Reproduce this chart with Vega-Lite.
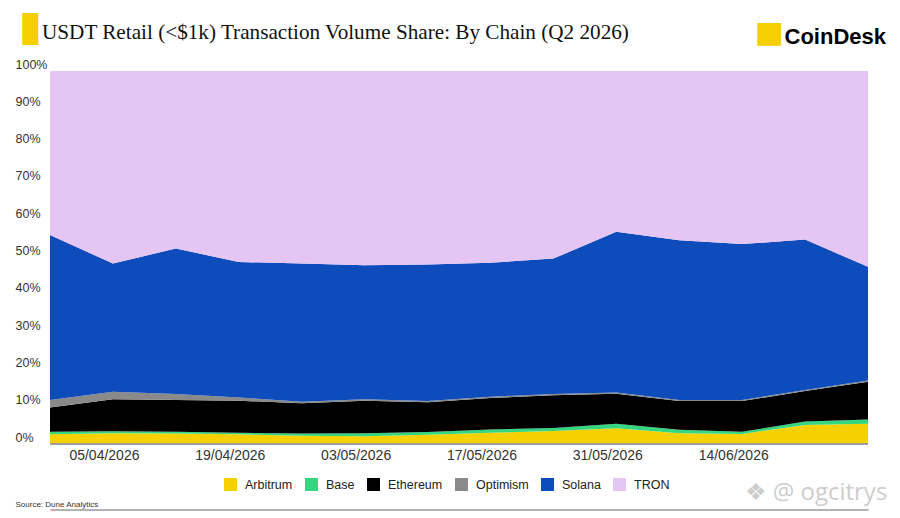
{
  "$schema": "https://vega.github.io/schema/vega-lite/v6.json",
  "width": 818,
  "height": 373,
  "autosize": {"type": "none"},
  "padding": {"left": 50, "top": 71, "right": 32, "bottom": 74},
  "background": "white",
  "title": {
    "text": "USDT Retail (<$1k) Transaction Volume Share: By Chain (Q2 2026)",
    "anchor": "start",
    "frame": "group",
    "font": "Liberation Serif",
    "fontSize": 21.2,
    "fontWeight": "normal",
    "color": "#111111",
    "baseline": "alphabetic",
    "offset": 0,
    "dx": -8,
    "dy": 45
  },
  "datasets": {
    "share": [
      {"week": "2026-03-30", "chain": "Arbitrum", "share": 2.6},
      {"week": "2026-03-30", "chain": "Base", "share": 0.7},
      {"week": "2026-03-30", "chain": "Ethereum", "share": 6.5},
      {"week": "2026-03-30", "chain": "Optimism", "share": 2.0},
      {"week": "2026-03-30", "chain": "Solana", "share": 44.2},
      {"week": "2026-03-30", "chain": "TRON", "share": 44.0},
      {"week": "2026-04-06", "chain": "Arbitrum", "share": 2.9},
      {"week": "2026-04-06", "chain": "Base", "share": 0.5},
      {"week": "2026-04-06", "chain": "Ethereum", "share": 8.6},
      {"week": "2026-04-06", "chain": "Optimism", "share": 2.0},
      {"week": "2026-04-06", "chain": "Solana", "share": 34.4},
      {"week": "2026-04-06", "chain": "TRON", "share": 51.6},
      {"week": "2026-04-13", "chain": "Arbitrum", "share": 2.8},
      {"week": "2026-04-13", "chain": "Base", "share": 0.5},
      {"week": "2026-04-13", "chain": "Ethereum", "share": 8.5},
      {"week": "2026-04-13", "chain": "Optimism", "share": 1.6},
      {"week": "2026-04-13", "chain": "Solana", "share": 39.0},
      {"week": "2026-04-13", "chain": "TRON", "share": 47.6},
      {"week": "2026-04-20", "chain": "Arbitrum", "share": 2.6},
      {"week": "2026-04-20", "chain": "Base", "share": 0.4},
      {"week": "2026-04-20", "chain": "Ethereum", "share": 8.6},
      {"week": "2026-04-20", "chain": "Optimism", "share": 0.9},
      {"week": "2026-04-20", "chain": "Solana", "share": 36.3},
      {"week": "2026-04-20", "chain": "TRON", "share": 51.2},
      {"week": "2026-04-27", "chain": "Arbitrum", "share": 2.2},
      {"week": "2026-04-27", "chain": "Base", "share": 0.6},
      {"week": "2026-04-27", "chain": "Ethereum", "share": 8.1},
      {"week": "2026-04-27", "chain": "Optimism", "share": 0.4},
      {"week": "2026-04-27", "chain": "Solana", "share": 37.1},
      {"week": "2026-04-27", "chain": "TRON", "share": 51.6},
      {"week": "2026-05-04", "chain": "Arbitrum", "share": 2.1},
      {"week": "2026-05-04", "chain": "Base", "share": 0.8},
      {"week": "2026-05-04", "chain": "Ethereum", "share": 8.7},
      {"week": "2026-05-04", "chain": "Optimism", "share": 0.4},
      {"week": "2026-05-04", "chain": "Solana", "share": 35.9},
      {"week": "2026-05-04", "chain": "TRON", "share": 52.1},
      {"week": "2026-05-11", "chain": "Arbitrum", "share": 2.5},
      {"week": "2026-05-11", "chain": "Base", "share": 0.7},
      {"week": "2026-05-11", "chain": "Ethereum", "share": 8.0},
      {"week": "2026-05-11", "chain": "Optimism", "share": 0.3},
      {"week": "2026-05-11", "chain": "Solana", "share": 36.6},
      {"week": "2026-05-11", "chain": "TRON", "share": 51.9},
      {"week": "2026-05-18", "chain": "Arbitrum", "share": 3.0},
      {"week": "2026-05-18", "chain": "Base", "share": 0.9},
      {"week": "2026-05-18", "chain": "Ethereum", "share": 8.4},
      {"week": "2026-05-18", "chain": "Optimism", "share": 0.4},
      {"week": "2026-05-18", "chain": "Solana", "share": 35.9},
      {"week": "2026-05-18", "chain": "TRON", "share": 51.4},
      {"week": "2026-05-25", "chain": "Arbitrum", "share": 3.5},
      {"week": "2026-05-25", "chain": "Base", "share": 0.8},
      {"week": "2026-05-25", "chain": "Ethereum", "share": 8.8},
      {"week": "2026-05-25", "chain": "Optimism", "share": 0.3},
      {"week": "2026-05-25", "chain": "Solana", "share": 36.3},
      {"week": "2026-05-25", "chain": "TRON", "share": 50.3},
      {"week": "2026-06-01", "chain": "Arbitrum", "share": 4.2},
      {"week": "2026-06-01", "chain": "Base", "share": 1.2},
      {"week": "2026-06-01", "chain": "Ethereum", "share": 8.1},
      {"week": "2026-06-01", "chain": "Optimism", "share": 0.3},
      {"week": "2026-06-01", "chain": "Solana", "share": 43.1},
      {"week": "2026-06-01", "chain": "TRON", "share": 43.1},
      {"week": "2026-06-08", "chain": "Arbitrum", "share": 2.9},
      {"week": "2026-06-08", "chain": "Base", "share": 0.9},
      {"week": "2026-06-08", "chain": "Ethereum", "share": 7.7},
      {"week": "2026-06-08", "chain": "Optimism", "share": 0.3},
      {"week": "2026-06-08", "chain": "Solana", "share": 42.8},
      {"week": "2026-06-08", "chain": "TRON", "share": 45.4},
      {"week": "2026-06-15", "chain": "Arbitrum", "share": 2.7},
      {"week": "2026-06-15", "chain": "Base", "share": 0.6},
      {"week": "2026-06-15", "chain": "Ethereum", "share": 8.2},
      {"week": "2026-06-15", "chain": "Optimism", "share": 0.3},
      {"week": "2026-06-15", "chain": "Solana", "share": 41.8},
      {"week": "2026-06-15", "chain": "TRON", "share": 46.4},
      {"week": "2026-06-22", "chain": "Arbitrum", "share": 5.1},
      {"week": "2026-06-22", "chain": "Base", "share": 0.9},
      {"week": "2026-06-22", "chain": "Ethereum", "share": 8.2},
      {"week": "2026-06-22", "chain": "Optimism", "share": 0.3},
      {"week": "2026-06-22", "chain": "Solana", "share": 40.3},
      {"week": "2026-06-22", "chain": "TRON", "share": 45.2},
      {"week": "2026-06-29", "chain": "Arbitrum", "share": 5.4},
      {"week": "2026-06-29", "chain": "Base", "share": 1.2},
      {"week": "2026-06-29", "chain": "Ethereum", "share": 10.1},
      {"week": "2026-06-29", "chain": "Optimism", "share": 0.3},
      {"week": "2026-06-29", "chain": "Solana", "share": 30.5},
      {"week": "2026-06-29", "chain": "TRON", "share": 52.5}
    ]
  },
  "data": {"name": "share"},
  "layer": [
    {
      "mark": {"type": "area", "opacity": 1},
      "encoding": {
        "x": {
          "field": "week",
          "type": "temporal",
          "scale": {"type": "utc", "nice": false},
          "axis": {
            "orient": "bottom",
            "title": null,
            "values": [
              {"year": 2026, "month": 4, "date": 5, "utc": true},
              {"year": 2026, "month": 4, "date": 19, "utc": true},
              {"year": 2026, "month": 5, "date": 3, "utc": true},
              {"year": 2026, "month": 5, "date": 17, "utc": true},
              {"year": 2026, "month": 5, "date": 31, "utc": true},
              {"year": 2026, "month": 6, "date": 14, "utc": true}
            ],
            "format": "%d/%m/%Y",
            "labelFontSize": 14,
            "labelPadding": 4,
            "labelAngle": 0,
            "labelFlush": false,
            "labelOverlap": false
          }
        },
        "y": {
          "field": "share",
          "type": "quantitative",
          "stack": "normalize",
          "axis": {
            "orient": "left",
            "values": [0, 0.1, 0.2, 0.3, 0.4, 0.5, 0.6, 0.7, 0.8, 0.9, 1],
            "format": ".0%",
            "labelAlign": "left",
            "labelPadding": 35,
            "labelBaseline": "alphabetic",
            "labelOffset": -3,
            "labelFontSize": 12.5,
            "labelFlush": false,
            "labelOverlap": false,
            "title": "▊",
            "titleColor": "#f6cf00",
            "titleFont": "DejaVu Sans",
            "titleFontSize": 27,
            "titleFontWeight": "normal",
            "titleAngle": 0,
            "titleAlign": "left",
            "titleBaseline": "alphabetic",
            "titleX": -28,
            "titleY": -34
          }
        },
        "color": {
          "field": "chain",
          "type": "nominal",
          "scale": {
            "domain": ["Arbitrum", "Base", "Ethereum", "Optimism", "Solana", "TRON"],
            "range": ["#f7d000", "#34d77f", "#000000", "#8a8a8a", "#0f4cbb", "#e5c5f3"]
          },
          "legend": {
            "orient": "none",
            "legendX": 174,
            "legendY": 407,
            "direction": "horizontal",
            "title": null
          }
        },
        "order": {"field": "chain", "sort": "ascending"}
      }
    },
    {
      "mark": {"type": "line", "color": "#9a9a9a", "strokeWidth": 1.5},
      "encoding": {
        "x": {
          "field": "week",
          "type": "temporal",
          "axis": {
            "orient": "bottom",
            "offset": 65.5,
            "labels": false,
            "domain": true,
            "domainColor": "#666666",
            "domainWidth": 1,
            "title": "Source: Dune Analytics",
            "titleFont": "Liberation Sans",
            "titleFontSize": 8,
            "titleFontWeight": "normal",
            "titleColor": "#333333",
            "titleAlign": "left",
            "titleBaseline": "alphabetic",
            "titleX": -35,
            "titleY": -3
          }
        },
        "y": {
          "datum": 0,
          "type": "quantitative",
          "axis": {
            "orient": "right",
            "labels": false,
            "title": "CoinDesk",
            "titleFont": "Liberation Sans",
            "titleFontSize": 22,
            "titleFontWeight": "bold",
            "titleColor": "#000000",
            "titleAngle": 0,
            "titleAlign": "left",
            "titleBaseline": "alphabetic",
            "titleX": -84,
            "titleY": -28
          }
        }
      }
    },
    {
      "mark": {"type": "line", "color": "#9a9a9a", "strokeWidth": 1.5},
      "encoding": {
        "x": {
          "field": "week",
          "type": "temporal",
          "axis": {
            "orient": "top",
            "labels": false,
            "title": "█▋",
            "titleFont": "DejaVu Sans",
            "titleFontSize": 19,
            "titleFontWeight": "normal",
            "titleColor": "#f6cf00",
            "titleAlign": "left",
            "titleBaseline": "alphabetic",
            "titleX": 707,
            "titleY": -30.5
          }
        },
        "y": {
          "datum": 0,
          "type": "quantitative",
          "axis": {
            "orient": "right",
            "labels": false,
            "title": "❖ @ ogcitrys",
            "titleFont": "Open Sans",
            "titleFontSize": 24,
            "titleFontWeight": "normal",
            "titleColor": "#cdcdcd",
            "titleAngle": 0,
            "titleAlign": "left",
            "titleBaseline": "alphabetic",
            "titleX": -124,
            "titleY": 428
          }
        }
      }
    }
  ],
  "resolve": {"axis": {"x": "independent", "y": "independent"}},
  "config": {
    "view": {"stroke": null},
    "axis": {
      "grid": false,
      "ticks": false,
      "domain": false,
      "labelFont": "Liberation Sans",
      "labelColor": "#333333"
    },
    "legend": {
      "symbolType": "square",
      "symbolSize": 169,
      "symbolStrokeWidth": 0,
      "symbolOpacity": 1,
      "labelFont": "Liberation Sans",
      "labelFontSize": 12.5,
      "labelColor": "#222222",
      "labelOffset": 8,
      "columnPadding": 12,
      "padding": 0
    }
  }
}
